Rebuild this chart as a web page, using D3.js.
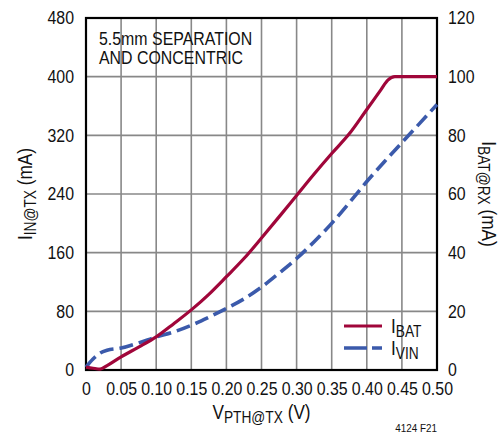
<!DOCTYPE html>
<html>
<head>
<meta charset="utf-8">
<script src="https://cdn.jsdelivr.net/npm/d3@7"></script>
<style>
	body { margin: 0; background: #fff; }
	svg text { font-family: "Liberation Sans", Arial, sans-serif; fill: #111; }
</style>
</head>
<body>
<svg id="chart" width="502" height="436"></svg>
<script>

// V(PTH@TX) in volts
let xTicks = [0, 0.05, 0.10, 0.15, 0.20, 0.25, 0.30, 0.35, 0.40, 0.45, 0.50];
let leftTicks = [0, 80, 160, 240, 320, 400, 480];
let rightTicks = [0, 20, 40, 60, 80, 100, 120];

// IBAT@RX (mA, right axis)
let ibatX = [0, 0.01, 0.02, 0.03, 0.05, 0.075, 0.10, 0.125, 0.15, 0.175, 0.20, 0.225, 0.25, 0.275, 0.30, 0.325, 0.35, 0.375, 0.40, 0.42, 0.43, 0.44, 0.45, 0.50];
let ibat = [1, 0.6, 0.3, 1.5, 4.5, 7.8, 11.3, 15.8, 20.5, 25.8, 31.8, 38, 45, 52.2, 59.5, 66.8, 73.8, 80.5, 88.8, 95.5, 98.8, 100, 100, 100];

// IIN@TX (mA, left axis)
let ivinX = [0, 0.01, 0.02, 0.03, 0.05, 0.075, 0.10, 0.125, 0.15, 0.175, 0.20, 0.225, 0.25, 0.275, 0.30, 0.325, 0.35, 0.375, 0.40, 0.425, 0.45, 0.475, 0.50];
let ivin = [4, 15, 23, 27, 30, 37, 45, 52, 61, 72, 84, 97, 113, 132, 152, 175, 200, 228, 257, 284, 310, 336, 362];

let red = '#a0063a';
let blue = '#3b5aab';
let squeeze = 0.86;   // narrow face look

let svg = d3.select('#chart');
let plotL = 86, plotR = 437, plotT = 18, plotB = 370;

let x = d3.scaleLinear().domain([0, 0.5]).range([plotL, plotR]);
let yL = d3.scaleLinear().domain([0, 480]).range([plotB, plotT]);
let yR = d3.scaleLinear().domain([0, 120]).range([plotB, plotT]);

// grid
let grid = svg.append('g').attr('stroke', '#888').attr('stroke-width', 1.6);
grid.selectAll('line.v').data(xTicks.slice(1, -1)).enter().append('line')
	.attr('x1', d => x(d)).attr('x2', d => x(d))
	.attr('y1', plotT).attr('y2', plotB);
grid.selectAll('line.h').data(leftTicks.slice(1, -1)).enter().append('line')
	.attr('x1', plotL).attr('x2', plotR)
	.attr('y1', d => yL(d)).attr('y2', d => yL(d));

function narrowTicks(g) {
	g.select('.domain').remove();
	g.selectAll('text')
		.style('font-size', '18.5px').attr('fill', '#111')
		.attr('x', function() { return (+d3.select(this).attr('x') || 0) / squeeze; })
		.attr('transform', 'scale(' + squeeze + ',1)');
}

svg.append('g').attr('transform', 'translate(' + plotL + ',0)')
	.call(d3.axisLeft(yL).tickValues(leftTicks).tickSize(0).tickPadding(12))
	.call(narrowTicks);

svg.append('g').attr('transform', 'translate(' + plotR + ',0)')
	.call(d3.axisRight(yR).tickValues(rightTicks).tickSize(0).tickPadding(11))
	.call(narrowTicks);

svg.append('g').attr('transform', 'translate(0,' + plotB + ')')
	.call(d3.axisBottom(x).tickValues(xTicks).tickSize(0).tickPadding(12)
		.tickFormat(d => d === 0 ? '0' : d3.format('.2f')(d)))
	.call(narrowTicks);

// frame
svg.append('rect').attr('x', plotL).attr('y', plotT)
	.attr('width', plotR - plotL).attr('height', plotB - plotT)
	.attr('fill', 'none').attr('stroke', '#000').attr('stroke-width', 2.2);

// curves
let ivinLine = d3.line().x((d, i) => x(ivinX[i])).y(d => yL(d)).curve(d3.curveMonotoneX);
let ibatLine = d3.line().x((d, i) => x(ibatX[i])).y(d => yR(d)).curve(d3.curveMonotoneX);

svg.append('path').datum(ivin).attr('d', ivinLine)
	.attr('fill', 'none').attr('stroke', blue).attr('stroke-width', 3.6)
	.attr('stroke-dasharray', '14,6');

svg.append('path').datum(ibat).attr('d', ibatLine)
	.attr('fill', 'none').attr('stroke', red).attr('stroke-width', 3.2);

// text helpers
function at(px, py, rot) {
	return 'translate(' + px + ',' + py + ')' + (rot ? ' rotate(' + rot + ')' : '') + ' scale(' + squeeze + ',1)';
}

function subLabel(main, sub, rest, size, subSize) {
	let t = svg.append('text').style('font-size', size);
	t.append('tspan').text(main);
	t.append('tspan').attr('dy', 4).style('font-size', subSize).text(sub);
	if (rest) t.append('tspan').attr('dy', -4).text(rest);
	return t;
}

// annotation
let note = svg.append('text').style('font-size', '18.5px').attr('transform', at(99, 45));
note.append('tspan').attr('x', 0).attr('y', 0).text('5.5mm SEPARATION');
note.append('tspan').attr('x', 0).attr('y', 19.5).text('AND CONCENTRIC');

// legend
svg.append('line').attr('x1', 344).attr('x2', 382).attr('y1', 326).attr('y2', 326)
	.attr('stroke', red).attr('stroke-width', 3.2);
svg.append('line').attr('x1', 344).attr('x2', 382).attr('y1', 348).attr('y2', 348)
	.attr('stroke', blue).attr('stroke-width', 3.6).attr('stroke-dasharray', '23,5');

subLabel('I', 'BAT', null, '20px', '16px').attr('transform', at(391, 333));
subLabel('I', 'VIN', null, '20px', '16px').attr('transform', at(391, 355));

// axis titles
subLabel('V', 'PTH@TX', ' (V)', '20px', '16px')
	.attr('text-anchor', 'middle').attr('transform', at((plotL + plotR) / 2, 419));

subLabel('I', 'IN@TX', ' (mA)', '20px', '16px')
	.attr('text-anchor', 'middle').attr('transform', at(32, (plotT + plotB) / 2, -90));

subLabel('I', 'BAT@RX', ' (mA)', '20px', '16px')
	.attr('text-anchor', 'middle').attr('transform', at(482, (plotT + plotB) / 2, 90));

svg.append('text').attr('text-anchor', 'end').attr('transform', at(437, 432))
	.style('font-size', '11.5px').text('4124 F21');

</script>
</body>
</html>
